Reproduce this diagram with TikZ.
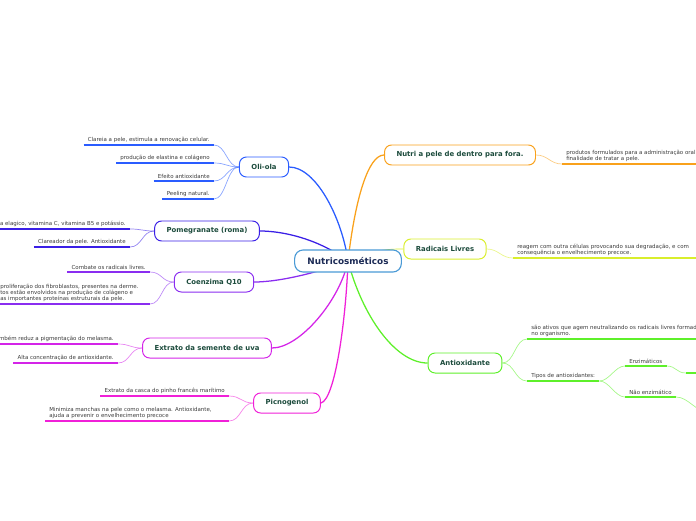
\documentclass[tikz,border=0pt]{standalone}
\usepackage{fontspec}
\setmainfont{DejaVu Sans}
\usetikzlibrary{positioning, backgrounds, calc}
\definecolor{borderRoot}{HTML}{4A9AD6}
\definecolor{textRoot}{HTML}{1B2A55}
\definecolor{textTopic}{HTML}{1C4B3C}
\definecolor{textLeaf}{HTML}{3A3A3A}
\definecolor{cOli}{HTML}{2A5CFF}
\definecolor{cPome}{HTML}{3A1FE6}
\definecolor{cCoen}{HTML}{8A2DF0}
\definecolor{cExtr}{HTML}{D424E8}
\definecolor{cPicn}{HTML}{F020D8}
\definecolor{cNutri}{HTML}{F9A11B}
\definecolor{cRadi}{HTML}{D9EE2C}
\definecolor{cAnti}{HTML}{5EF02A}
\tikzset{
  rootnode/.style={draw=borderRoot, fill=white, rounded corners=6pt,
    minimum height=0.55cm, inner xsep=0.32cm,
    font=\fontsize{6.3}{7}\selectfont\bfseries, text=textRoot, line width=0.8pt},
  topicnode/.style={fill=white, rounded corners=5pt,
    minimum height=0.5cm, inner xsep=0.3cm,
    font=\fontsize{4.9}{5.5}\selectfont\bfseries, text=textTopic, line width=0.7pt},
  leaf/.style={font=\fontsize{3.9}{4.4}\selectfont, text=textLeaf,
    inner xsep=0.1cm, inner ysep=1.5pt, align=left},
  leafline/.style={line width=1.4pt},
  thinlink/.style={line width=0.5pt, opacity=0.55},
  rootlink/.style={line width=0.9pt},
}
\begin{document}
\begin{tikzpicture}[x=0.025cm, y=-0.025cm]
  \useasboundingbox (0,0) rectangle (696,520);
  \coordinate (edgeR) at (700,0);

  % === Centre and topics ===
  \node[rootnode] (root) at (348,261) {Nutricosméticos};
  \node[topicnode, draw=cOli] (oli) at (264,167) {Oli-ola};
  \node[topicnode, draw=cPome] (pome) at (207,231) {Pomegranate (roma)};
  \node[topicnode, draw=cCoen] (coen) at (214,282) {Coenzima Q10};
  \node[topicnode, draw=cExtr] (extr) at (207,348) {Extrato da semente de uva};
  \node[topicnode, draw=cPicn] (picn) at (287,403) {Picnogenol};
  \node[topicnode, draw=cNutri] (nutri) at (460,155) {Nutri a pele de dentro para fora.};
  \node[topicnode, draw=cRadi] (radi) at (445,249) {Radicais Livres};
  \node[topicnode, draw=cAnti] (anti) at (465,363) {Antioxidante};

  % Links: centre -> topics
  \begin{scope}[on background layer]
    \draw[rootlink, cOli] (root.center) .. controls (342,218) and (316,167) .. (oli.east);
    \draw[rootlink, cPome] (root.center) .. controls (320,240) and (285,231) .. (pome.east);
    \draw[rootlink, cCoen] (root.center) .. controls (320,272) and (280,282) .. (coen.east);
    \draw[rootlink, cExtr] (root.center) .. controls (340,300) and (300,348) .. (extr.east);
    \draw[rootlink, cPicn] (root.center) .. controls (346,320) and (335,400) .. (picn.east);
    \draw[rootlink, cNutri] (root.center) .. controls (355,200) and (368,155) .. (nutri.west);
    \draw[line width=0.5pt, cRadi] (root.center) .. controls +(30,-12) and +(-15,0) .. (radi.west);
    \draw[rootlink, cAnti] (root.center) .. controls (362,315) and (395,363) .. (anti.west);
  \end{scope}

  % === Oli-ola ===
  \node[leaf, anchor=south east] (o1) at (214,145) {Clareia a pele, estimula a renovação celular.};
  \node[leaf, anchor=south east] (o2) at (214,163) {produção de elastina e colágeno};
  \node[leaf, anchor=south east] (o3) at (214,181) {Efeito antioxidante};
  \node[leaf, anchor=south east] (o4) at (214,199) {Peeling natural.};
  \foreach \n in {o1,o2,o3,o4} {
    \draw[leafline, cOli] (\n.south west) -- (\n.south east);
    \draw[thinlink, cOli] (\n.south east) .. controls +(12,0) and +(-12,0) .. (oli.west);
  }

  % === Pomegranate ===
  \node[leaf, anchor=south east] (p1) at (130,229) {a elagico, vitamina C, vitamina B5 e potássio.};
  \node[leaf, anchor=south east] (p2) at (130,247) {Clareador da pele. Antioxidante};
  \foreach \n in {p1,p2} {
    \draw[leafline, cPome] (\n.south west) -- (\n.south east);
    \draw[thinlink, cPome] (\n.south east) .. controls +(12,0) and +(-12,0) .. (pome.west);
  }

  % === Coenzima Q10 ===
  \node[leaf, anchor=south east] (c1) at (150,272) {Combate os radicais livres.};
  \node[leaf, anchor=south west] (c2) at (-4,304) {proliferação dos fibroblastos, presentes na derme.\\
    tos estão envolvidos na produção de colágeno e\\
    as importantes proteínas estruturais da pele.};
  \coordinate (c2end) at (c2.south west -| c1.south east);
  \draw[leafline, cCoen] (c1.south west) -- (c1.south east);
  \draw[leafline, cCoen] (c2.south west) -- (c2end);
  \draw[thinlink, cCoen] (c1.south east) .. controls +(12,0) and +(-12,0) .. (coen.west);
  \draw[thinlink, cCoen] (c2end) .. controls +(12,0) and +(-12,0) .. (coen.west);

  % === Extrato da semente de uva ===
  \node[leaf, anchor=south east] (e1) at (118,344) {Também reduz a pigmentação do melasma.};
  \node[leaf, anchor=south east] (e2) at (118,363) {Alta concentração de antioxidante.};
  \foreach \n in {e1,e2} {
    \draw[leafline, cExtr] (\n.south west) -- (\n.south east);
    \draw[thinlink, cExtr] (\n.south east) .. controls +(12,0) and +(-12,0) .. (extr.west);
  }

  % === Picnogenol ===
  \node[leaf, anchor=south east] (g1) at (229,396) {Extrato da casca do pinho francês marítimo};
  \node[leaf, anchor=south west] (g2) at (45,421) {Minimiza manchas na pele como o melasma. Antioxidante,\\
    ajuda a prevenir o envelhecimento precoce};
  \draw[leafline, cPicn] (g1.south west) -- (g1.south east);
  \draw[leafline, cPicn] (g2.south west) -- (g2.south west -| g1.south east);
  \draw[thinlink, cPicn] (g1.south east) .. controls +(12,0) and +(-12,0) .. (picn.west);
  \draw[thinlink, cPicn] (g2.south west -| g1.south east) .. controls +(12,0) and +(-12,0) .. (picn.west);

  % === Nutri a pele ===
  \node[leaf, anchor=south west] (n1) at (562,164) {produtos formulados para a administração oral\\
    finalidade de tratar a pele.};
  \draw[leafline, cNutri] (n1.south west) -- (n1.south west -| edgeR);
  \draw[thinlink, cNutri] (nutri.east) .. controls +(12,0) and +(-12,0) .. (n1.south west);

  % === Radicais Livres ===
  \node[leaf, anchor=south west] (r1) at (513,258) {reagem com outra células provocando sua degradação, e com\\
    consequência o envelhecimento precoce.};
  \draw[leafline, cRadi] (r1.south west) -- (r1.south west -| edgeR);
  \draw[thinlink, cRadi] (radi.east) .. controls +(12,0) and +(-12,0) .. (r1.south west);

  % === Antioxidante ===
  \node[leaf, anchor=south west] (a1) at (527,339) {são ativos que agem neutralizando os radicais livres formados\\
    no organismo.};
  \node[leaf, anchor=south west] (a2) at (527,381) {Tipos de antioxidantes:};
  \draw[leafline, cAnti] (a1.south west) -- (a1.south west -| edgeR);
  \draw[leafline, cAnti] (a2.south west) -- (a2.south east);
  \draw[thinlink, cAnti] (anti.east) .. controls +(12,0) and +(-12,0) .. (a1.south west);
  \draw[thinlink, cAnti] (anti.east) .. controls +(12,0) and +(-12,0) .. (a2.south west);

  \node[leaf, anchor=south west] (enz) at (625,366) {Enzimáticos};
  \node[leaf, anchor=south west] (nao) at (625,397) {Não enzimático};
  \foreach \n in {enz,nao} {
    \draw[leafline, cAnti] (\n.south west) -- (\n.south east);
    \draw[thinlink, cAnti] (a2.south east) .. controls +(10,0) and +(-10,0) .. (\n.south west);
  }
  \coordinate (enzNext) at (686,373);
  \coordinate (naoNext) at (708,412);
  \draw[thinlink, cAnti] (enz.south east) .. controls +(10,0) and +(-10,0) .. (enzNext);
  \draw[leafline, cAnti] (enzNext) -- (enzNext -| edgeR);
  \draw[thinlink, cAnti] (nao.south east) .. controls +(12,0) and +(-12,0) .. (naoNext);

\end{tikzpicture}
\end{document}
